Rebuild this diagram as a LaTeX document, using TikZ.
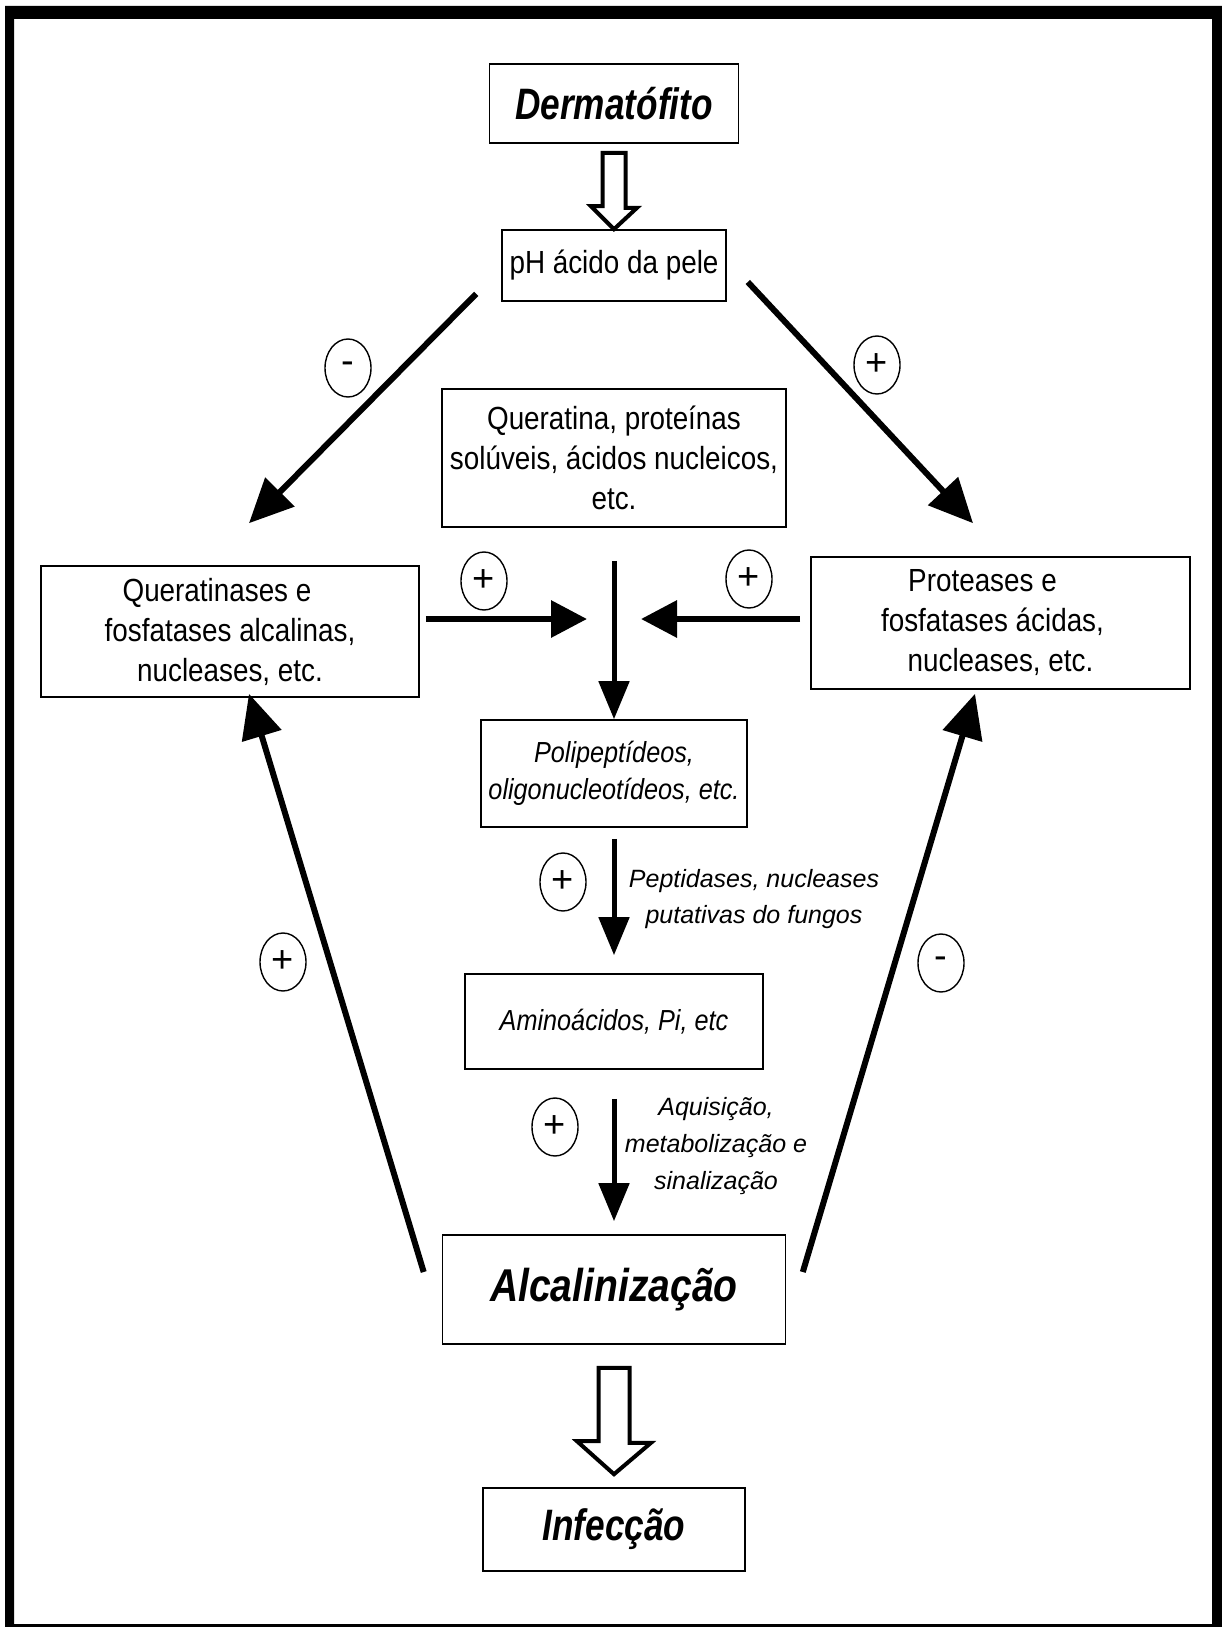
\documentclass[tikz,border=0pt]{standalone}
\usepackage{fontspec}
\setmainfont{Liberation Sans}
\newfontfamily\narrowsans[FakeStretch=0.87]{Liberation Sans}
\newfontfamily\titlesans[FakeStretch=0.8]{Liberation Sans}
\newfontfamily\widesans[FakeStretch=0.85]{Liberation Sans}
\usetikzlibrary{shapes.geometric,arrows.meta,positioning,calc}

\begin{document}
\begin{tikzpicture}[x=0.5pt, y=-0.5pt,
  box/.style={draw, rectangle, line width=0.8pt, align=center, inner sep=2pt},
  bodytext/.style={font=\narrowsans\fontsize{16}{20}\selectfont},
  smalltext/.style={font=\narrowsans\itshape\fontsize{14.5}{18.5}\selectfont},
  titletext/.style={font=\titlesans\bfseries\itshape\fontsize{22}{26}\selectfont},
  note/.style={align=center, inner sep=0pt, font=\itshape\fontsize{12.5}{18.3}\selectfont},
  sign/.style={draw, ellipse, line width=0.7pt, minimum width=23pt, minimum height=29pt,
    inner sep=0pt, font=\fontsize{19}{19}\selectfont},
  bigarrow/.style={line width=3pt, -{Triangle[length=22pt, width=20pt]}},
  sidearrow/.style={line width=3.2pt, -{Triangle[length=18pt, width=18pt]}},
  downarrow/.style={line width=2.5pt, -{Triangle[length=19pt, width=15pt]}},
  hollow/.style={draw, line width=2pt, fill=white, line join=miter}
]

  \useasboundingbox (0,0) rectangle (1221,1627);
  \fill[white] (0,0) rectangle (1221,1627);
  % outer frame
  \fill[black, even odd rule] (5,6) rectangle (1232,1636) (14,19) rectangle (1212,1624);

  % central column
  \node[box, titletext, minimum width=124.5pt, minimum height=39.5pt] (derm) at (614,103.5) {Dermatófito};
  \node[box, bodytext, minimum width=112pt, minimum height=35.5pt] (ph) at (614,265.5) {pH ácido da pele};
  \node[box, bodytext, minimum width=172pt, minimum height=69pt] (quer) at (614,458)
    {Queratina, proteínas\\solúveis, ácidos nucleicos,\\etc.};
  \node[box, smalltext, minimum width=133pt, minimum height=53.5pt] (poli) at (614,773.5)
    {Polipeptídeos,\\oligonucleotídeos, etc.};
  \node[box, smalltext, minimum width=149pt, minimum height=47.5pt] (amino) at (614,1021.5)
    {Aminoácidos, Pi, etc};
  \node[box, minimum width=171.5pt, minimum height=54.5pt,
    font=\widesans\bfseries\itshape\fontsize{23}{27}\selectfont] (alc) at (614,1289.5) {Alcalinização};
  \node[box, titletext, minimum width=131pt, minimum height=41.5pt] (inf) at (614,1529.5) {Infecção};

  % enzyme boxes
  \node[box, bodytext, minimum width=189pt, minimum height=65.5pt] (qase) at (230,631.5)
    {\hspace*{-13pt}Queratinases e\\fosfatases alcalinas,\\nucleases, etc.};
  \node[box, bodytext, minimum width=189.5pt, minimum height=66pt] (prot) at (1000.5,623)
    {\hspace*{-18pt}Proteases e\\\hspace*{-8pt}fosfatases ácidas,\\nucleases, etc.};

  % labels on the central arrows
  \node[note] (pept) at (754,899) {Peptidases, nucleases\\putativas do fungos};
  \node[note] (aqui) at (716,1146) {Aquisição,\\metabolização e\\sinalização};

  % junctions of the side arrows
  \coordinate (junL) at (587,619);
  \coordinate (junR) at (641,619);

  % hollow arrows
  \draw[hollow] ($(derm.south)+(-11.5,9)$) -- ++(23,0) -- ++(0,55) -- ++(11.5,0)
    -- (ph.north) -- ++(-23,-23) -- ++(11.5,0) -- cycle;
  \draw[hollow] ($(alc.south)+(-15.5,23)$) -- ++(31,0) -- ++(0,75) -- ++(21.5,0)
    -- ($(inf.north)+(0,-13)$) -- ++(-37,-33) -- ++(21.5,0) -- cycle;

  % arrows
  \draw[bigarrow] ([shift={(-25,-8)}]ph.south west) -- ([shift={(19,-42)}]qase.north);
  \draw[bigarrow] ([shift={(21,16.5)}]ph.east) -- ([shift={(-27.5,-33)}]prot.north);
  \draw[sidearrow] ([shift={(6,-12.5)}]qase.east) -- (junL);
  \draw[sidearrow] ([shift={(-10,-4)}]prot.west) -- (junR);
  \draw[downarrow] ([shift={(0,33)}]quer.south) -- (poli.north);
  \draw[downarrow] ([shift={(0,11)}]poli.south) -- ([shift={(0,-18)}]amino.north);
  \draw[downarrow] ([shift={(0,29)}]amino.south) -- ([shift={(0,-13)}]alc.north);
  \draw[bigarrow] ([shift={(-18,-17.5)}]alc.west) -- ([shift={(19,-4)}]qase.south);
  \draw[bigarrow] ([shift={(16.5,-17.5)}]alc.east) -- ([shift={(-25.5,4)}]prot.south);

  % signs
  \node[sign] (s1) at (348,368) {-};
  \node[sign] (s2) at (877,365) {+};
  \node[sign] (s3) at (484,581) {+};
  \node[sign] (s4) at (749,579) {+};
  \node[sign] (s5) at (563,882) {+};
  \node[sign] (s6) at (555,1127) {+};
  \node[sign] (s7) at (283,962) {+};
  \node[sign] (s8) at (941,963) {-};

\end{tikzpicture}
\end{document}
